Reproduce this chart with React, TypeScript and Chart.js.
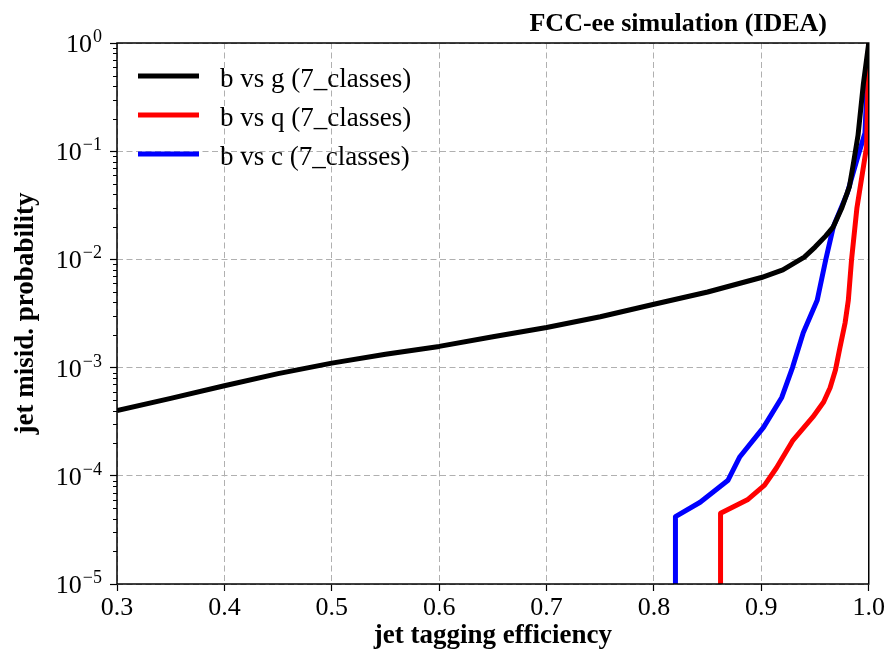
import React, { useEffect, useRef } from 'react';
import { Chart, registerables } from 'chart.js';

Chart.register(...registerables);

// ---- data ----
const effBvsG = [0.3, 0.35, 0.4, 0.45, 0.5, 0.55, 0.6, 0.65, 0.7, 0.75, 0.8, 0.85, 0.9, 0.92, 0.94, 0.95, 0.96, 0.967, 0.975, 0.982, 0.986, 0.99, 0.995, 1.0];
const misBvsG = [4.0e-4, 5.2e-4, 6.8e-4, 8.8e-4, 1.1e-3, 1.33e-3, 1.57e-3, 1.93e-3, 2.35e-3, 2.95e-3, 3.85e-3, 5.0e-3, 6.8e-3, 8.0e-3, 1.05e-2, 1.3e-2, 1.65e-2, 2.0e-2, 3.0e-2, 4.7e-2, 8.0e-2, 0.14, 0.42, 1.0];

const effBvsQ = [0.862, 0.862, 0.887, 0.903, 0.914, 0.929, 0.948, 0.958, 0.964, 0.969, 0.973, 0.978, 0.981, 0.984, 0.989, 0.998, 1.0];
const misBvsQ = [1e-5, 4.5e-5, 6.0e-5, 8.2e-5, 1.18e-4, 2.1e-4, 3.5e-4, 4.8e-4, 6.5e-4, 9.5e-4, 1.5e-3, 2.6e-3, 4.2e-3, 1.0e-2, 3.0e-2, 0.11, 1.0];

const effBvsC = [0.82, 0.82, 0.843, 0.869, 0.88, 0.902, 0.919, 0.929, 0.939, 0.952, 0.96, 0.967, 0.98, 0.99, 0.9965, 1.0];
const misBvsC = [1e-5, 4.2e-5, 5.7e-5, 9.1e-5, 1.5e-4, 2.8e-4, 5.3e-4, 1.0e-3, 2.1e-3, 4.2e-3, 1.0e-2, 2.0e-2, 4.1e-2, 9.0e-2, 0.147, 1.0];

const seriesLabels = ['b vs g (7_classes)', 'b vs q (7_classes)', 'b vs c (7_classes)'];
const seriesColors = ['#000000', '#ff0000', '#0000ff'];

const xTicks = [0.3, 0.4, 0.5, 0.6, 0.7, 0.8, 0.9, 1.0];
const yTicks = [1e-5, 1e-4, 1e-3, 1e-2, 1e-1, 1];

const titleText = 'FCC-ee simulation (IDEA)';
const xTitleText = 'jet tagging efficiency';
const yTitleText = 'jet misid. probability';

const SERIF = '"Liberation Serif", "Times New Roman", serif';

const toPoints = (xs: number[], ys: number[]) => xs.map((x, i) => ({ x, y: ys[i] }));

const decorPlugin = {
  id: 'decor',
  afterDraw(chart: any) {
    const { ctx, chartArea: a, scales } = chart;
    const ys = scales.y;
    ctx.save();
    // frame
    ctx.setLineDash([]);
    ctx.strokeStyle = '#000';
    ctx.lineWidth = 1.5;
    ctx.strokeRect(a.left, a.top, a.right - a.left, a.bottom - a.top);
    // minor ticks on y
    ctx.lineWidth = 1;
    for (let e = -5; e < 0; e++) {
      for (let m = 2; m <= 9; m++) {
        const py = Math.round(ys.getPixelForValue(m * Math.pow(10, e))) + 0.5;
        ctx.beginPath();
        ctx.moveTo(a.left - 4, py);
        ctx.lineTo(a.left, py);
        ctx.stroke();
      }
    }
    // y tick labels with superscripts
    ctx.fillStyle = '#000';
    ctx.textBaseline = 'alphabetic';
    ctx.textAlign = 'left';
    yTicks.forEach((v) => {
      const py = ys.getPixelForValue(v);
      const exp = Math.round(Math.log10(v));
      const expStr = exp === 0 ? '0' : '\u2212' + String(-exp);
      ctx.font = '18px ' + SERIF;
      const ew = ctx.measureText(expStr).width;
      ctx.font = '26px ' + SERIF;
      const bw = ctx.measureText('10').width;
      const right = a.left - 15;
      const ex = right - ew;
      const bx = ex - bw - 1;
      ctx.fillText('10', bx, py + 9);
      ctx.font = '18px ' + SERIF;
      ctx.fillText(expStr, ex, py - 1);
    });
    // title
    ctx.font = 'bold 26px ' + SERIF;
    ctx.textAlign = 'right';
    ctx.fillText(titleText, 827, 31);
    // x title
    ctx.font = 'bold 27px ' + SERIF;
    ctx.textAlign = 'center';
    ctx.fillText(xTitleText, (a.left + a.right) / 2, 643);
    // y title
    ctx.save();
    ctx.translate(33, (a.top + a.bottom) / 2);
    ctx.rotate(-Math.PI / 2);
    ctx.fillText(yTitleText, 0, 0);
    ctx.restore();
    // legend
    const rows = [76, 115, 154];
    chart.data.datasets.forEach((ds: any, i: number) => {
      const y = rows[i];
      ctx.strokeStyle = ds.borderColor;
      ctx.lineWidth = 5;
      ctx.beginPath();
      ctx.moveTo(138, y);
      ctx.lineTo(199, y);
      ctx.stroke();
      ctx.font = '27px ' + SERIF;
      ctx.textAlign = 'left';
      ctx.fillStyle = '#000';
      ctx.fillText(ds.label, 220, y + 11);
    });
    ctx.restore();
  },
};

export default function App() {
  const ref = useRef<HTMLCanvasElement>(null);
  useEffect(() => {
    if (!ref.current) return;
    const gridCommon = {
      color: '#b0b0b0',
      lineWidth: 1,
      drawTicks: true,
      tickLength: 7,
      tickColor: '#000',
      tickWidth: 1.2,
      tickBorderDash: [],
    };
    const chart = new Chart(ref.current, {
      type: 'line',
      data: {
        datasets: [
          { label: seriesLabels[0], data: toPoints(effBvsG, misBvsG), borderColor: seriesColors[0] },
          { label: seriesLabels[1], data: toPoints(effBvsQ, misBvsQ), borderColor: seriesColors[1] },
          { label: seriesLabels[2], data: toPoints(effBvsC, misBvsC), borderColor: seriesColors[2] },
        ].map((d) => ({ ...d, borderWidth: 5, pointRadius: 0, fill: false, tension: 0, borderJoinStyle: 'round', backgroundColor: d.borderColor })),
      },
      options: {
        responsive: false,
        animation: false,
        devicePixelRatio: 1,
        layout: { padding: { top: 43, right: 18, left: 0, bottom: 0 } },
        plugins: { legend: { display: false }, tooltip: { enabled: false }, title: { display: false } },
        scales: {
          x: {
            type: 'linear',
            min: 0.3,
            max: 1.0,
            afterBuildTicks: (s: any) => { s.ticks = xTicks.map((v) => ({ value: v })); },
            afterFit: (s: any) => { s.height = 70; },
            ticks: {
              callback: (v: any) => Number(v).toFixed(1),
              font: { family: SERIF, size: 26 },
              color: '#000',
              padding: 2,
              maxRotation: 0,
              autoSkip: false,
            },
            grid: gridCommon,
            border: { display: false, dash: [6, 3.5] },
          },
          y: {
            type: 'logarithmic',
            min: 1e-5,
            max: 1,
            afterBuildTicks: (s: any) => { s.ticks = yTicks.map((v) => ({ value: v })); },
            afterFit: (s: any) => { s.width = 117; },
            ticks: { display: false },
            grid: gridCommon,
            border: { display: false, dash: [6, 3.5] },
          },
        },
      } as any,
      plugins: [decorPlugin],
    });
    return () => chart.destroy();
  }, []);
  return (
    <div style={{ position: 'absolute', left: 0, top: 0, width: 887, height: 654, background: '#fff' }}>
      <canvas ref={ref} width={887} height={654} style={{ width: 887, height: 654, display: 'block' }} />
    </div>
  );
}
